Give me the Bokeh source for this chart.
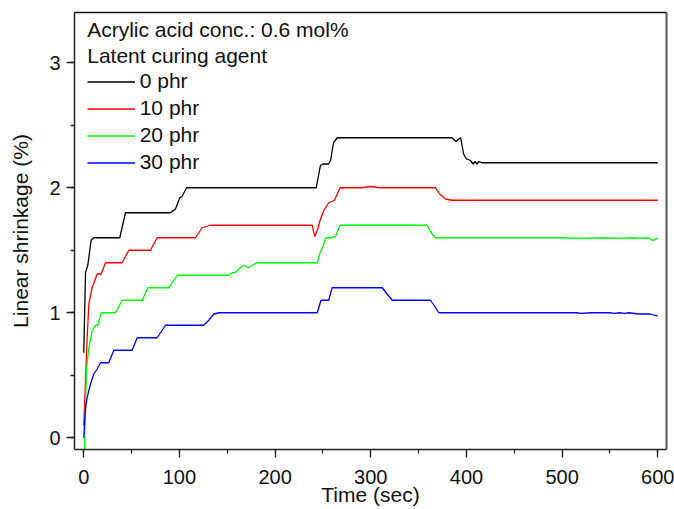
from bokeh.plotting import figure
from bokeh.models import Range1d, LinearAxis, SingleIntervalTicker, FixedTicker, Label, Legend, LegendItem
from bokeh.embed import file_html
from bokeh.resources import INLINE

FONT = "Liberation Sans"

# ---- data ----
t_0phr = [0, 1.8, 4.2, 7.7, 10.5, 37.6, 43.6, 90.6, 95.8, 100.4, 102.7, 107.4, 243, 247.4, 250, 256,
          258, 261, 265, 385, 389, 392, 394, 397, 400, 404, 407, 409, 411, 413, 416, 600]
y_0phr = [0.68, 1.32, 1.38, 1.58, 1.60, 1.60, 1.80, 1.80, 1.83, 1.92, 1.93, 2.00, 2.00, 2.18, 2.19, 2.19,
          2.22, 2.36, 2.40, 2.40, 2.37, 2.39, 2.40, 2.27, 2.23, 2.22, 2.19, 2.21, 2.19, 2.21, 2.20, 2.20]

t_10phr = [0, 3.5, 5.3, 8.7, 14, 18.2, 22.7, 40.1, 47, 69.7, 76.7, 116.8, 123.7, 132.4, 238.7, 241.5,
           244.6, 247, 251, 256, 262, 265, 268, 290, 300, 310, 367.6, 372, 378, 385, 600]
y_10phr = [0.10, 0.80, 1.07, 1.20, 1.31, 1.31, 1.40, 1.40, 1.50, 1.50, 1.60, 1.60, 1.68, 1.70, 1.70, 1.61,
           1.67, 1.74, 1.82, 1.88, 1.90, 1.95, 2.00, 2.00, 2.01, 2.00, 2.00, 1.95, 1.91, 1.90, 1.90]

t_20phr = [0, 0.7, 2.8, 5.3, 8.7, 12.2, 14.6, 18.2, 33.1, 40.1, 61, 66.9, 88.9, 97.6, 151.6, 155, 158,
           162, 167, 172, 176, 181, 244, 247, 250, 253, 258, 263, 268, 359, 363, 367.6, 400, 450, 500,
           520, 540, 560, 575, 585, 590, 594, 597, 600]
y_20phr = [-0.15, -0.1, 0.54, 0.72, 0.85, 0.90, 0.90, 1.00, 1.00, 1.10, 1.10, 1.20, 1.20, 1.30, 1.30,
           1.32, 1.32, 1.35, 1.38, 1.36, 1.38, 1.40, 1.40, 1.48, 1.53, 1.60, 1.60, 1.61, 1.70, 1.70, 1.64,
           1.60, 1.60, 1.60, 1.60, 1.595, 1.60, 1.595, 1.60, 1.595, 1.60, 1.58, 1.585, 1.60]

t_30phr = [0, 1, 2, 3.5, 7, 10.5, 14, 17.5, 26.1, 31.4, 50.6, 55.8, 76.7, 85.4, 125.4, 130.7, 135.9,
           141.5, 244, 248, 256, 259.6, 312, 317, 322.4, 362.4, 367, 371, 400, 450, 500, 515, 520, 530,
           545, 550, 555, 560, 565, 570, 580, 588, 592, 596, 600]
y_30phr = [0.0, 0.15, 0.24, 0.32, 0.43, 0.51, 0.55, 0.60, 0.60, 0.70, 0.70, 0.80, 0.80, 0.90, 0.90,
           0.94, 0.99, 1.00, 1.00, 1.10, 1.10, 1.20, 1.20, 1.15, 1.10, 1.10, 1.05, 1.00, 1.00, 1.00, 1.00,
           1.00, 0.995, 1.0, 1.0, 1.0, 0.995, 1.0, 0.995, 1.0, 0.99, 0.99, 0.99, 0.98, 0.975, 1.0]

series_labels = ["0 phr", "10 phr", "20 phr", "30 phr"]
series_colors = ["#000000", "#ff0000", "#00ff00", "#0000ff"]
header_lines = ["Acrylic acid conc.: 0.6 mol%", "Latent curing agent"]
x_title = "Time (sec)"
y_title = "Linear shrinkage (%)"

p = figure(width=674, height=509, output_backend="svg", toolbar_location=None,
           x_range=Range1d(-9.7, 609.1), y_range=Range1d(-0.094, 3.402),
           min_border_left=74, min_border_top=12, min_border_right=8, min_border_bottom=60)
p.grid.visible = False
p.background_fill_color = "white"
p.outline_line_color = None

renderers = []
for tt, yy, c in zip([t_0phr, t_10phr, t_20phr, t_30phr],
                     [y_0phr, y_10phr, y_20phr, y_30phr], series_colors):
    r = p.line(tt, yy, line_color=c, line_width=1.3)
    renderers.append(r)

# axes
for ax in (p.xaxis[0], p.yaxis[0]):
    ax.axis_line_width = 1.5
    ax.axis_line_color = "#222222"
    ax.major_tick_line_color = "#222222"
    ax.minor_tick_line_color = "#222222"
    ax.major_tick_line_width = 1.3
    ax.minor_tick_line_width = 1.3
    ax.major_tick_out = 8
    ax.major_tick_in = 0
    ax.minor_tick_out = 4
    ax.minor_tick_in = 0
    ax.major_label_text_font = FONT
    ax.major_label_text_font_size = "20px"
    ax.major_label_text_color = "#111111"
    ax.axis_label_text_font = FONT
    ax.axis_label_text_font_size = "21px"
    ax.axis_label_text_font_style = "normal"
    ax.axis_label_text_color = "#111111"

p.xaxis[0].ticker = SingleIntervalTicker(interval=100, num_minor_ticks=2)
p.yaxis[0].ticker = SingleIntervalTicker(interval=1, num_minor_ticks=2)
p.xaxis[0].axis_label = x_title
p.yaxis[0].axis_label = y_title
p.xaxis[0].major_label_standoff = 12
p.xaxis[0].axis_label_standoff = -4
p.yaxis[0].major_label_standoff = 6
p.yaxis[0].axis_label_standoff = 14

top = LinearAxis(ticker=FixedTicker(ticks=[]))
top.axis_line_color = "#111111"
top.axis_line_width = 1.5
top.major_tick_line_color = None
top.minor_tick_line_color = None
top.major_label_standoff = 0
p.add_layout(top, "above")

right = LinearAxis(ticker=FixedTicker(ticks=[]))
right.axis_line_color = "#555555"
right.axis_line_width = 2
right.major_tick_line_color = None
right.minor_tick_line_color = None
right.major_label_standoff = 0
p.add_layout(right, "right")

# header text
for i, txt in enumerate(header_lines):
    p.add_layout(Label(x=12.7, y=420.2 - 26 * i, x_units="screen", y_units="screen", text=txt,
                       text_font=FONT, text_font_size="21px", text_color="#111111",
                       text_baseline="middle"))

legend = Legend(items=[LegendItem(label=l, renderers=[r]) for l, r in zip(series_labels, renderers)],
                location=(12.7, 273.5))
legend.glyph_width = 48
legend.glyph_height = 27
legend.label_height = 27
legend.label_standoff = 5
legend.spacing = 0
legend.padding = 0
legend.margin = 0
legend.border_line_color = None
legend.background_fill_alpha = 0
legend.label_text_font = FONT
legend.label_text_font_size = "21px"
legend.label_text_color = "#111111"
p.add_layout(legend, "center")

open("out.html", "w").write(file_html(p, INLINE))
